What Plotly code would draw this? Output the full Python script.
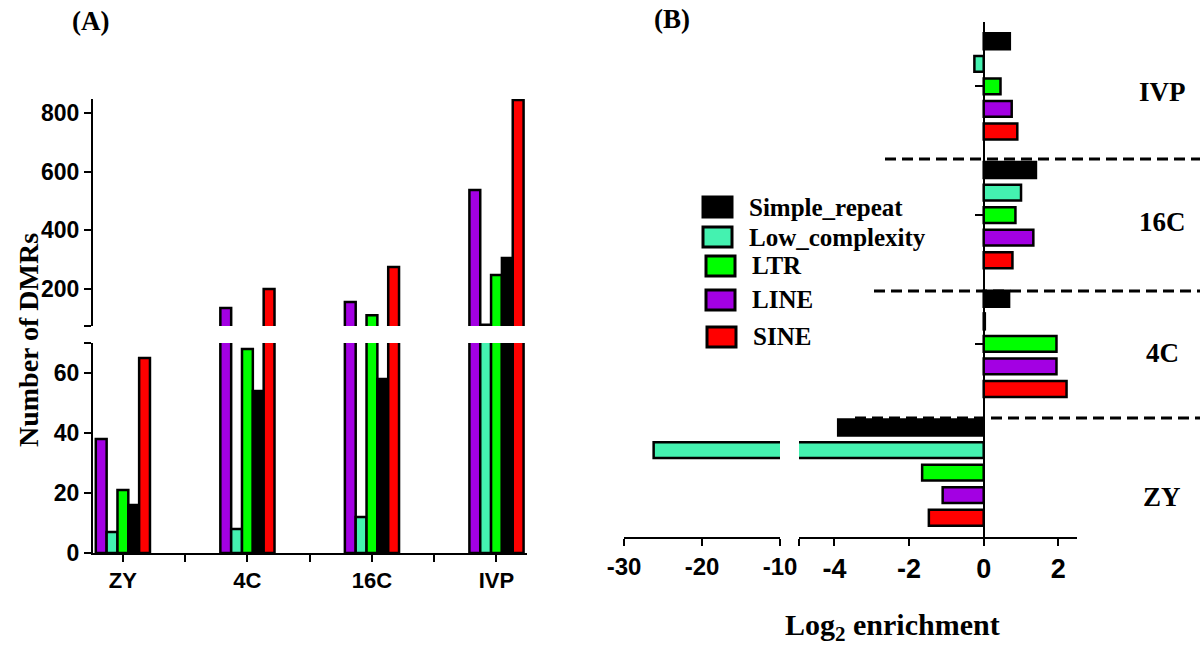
import plotly.graph_objects as go

W, H = 1200, 647
def px(x): return x / W
def py(y): return 1 - y / H

# ---------------- data ----------------
stages = ["ZY", "4C", "16C", "IVP"]

# Panel A: number of DMRs (left-to-right order within each stage)
dmr_series = ["LINE", "Low_complexity", "LTR", "Simple_repeat", "SINE"]
dmr_LINE = [38, 135, 156, 538]
dmr_Low_complexity = [7, 8, 12, 78]
dmr_LTR = [21, 68, 111, 248]
dmr_Simple_repeat = [16, 54, 58, 306]
dmr_SINE = [65, 200, 275, 845]

# Panel B: log2 enrichment
enr_series = ["Simple_repeat", "Low_complexity", "LTR", "LINE", "SINE"]
enr_Simple_repeat = [-3.9, 0.68, 1.4, 0.70]
enr_Low_complexity = [-26.2, 0.03, 1.0, -0.25]
enr_LTR = [-1.65, 1.95, 0.85, 0.45]
enr_LINE = [-1.1, 1.95, 1.33, 0.75]
enr_SINE = [-1.47, 2.22, 0.77, 0.9]

# tick labels
a_low_ticks = [0, 20, 40, 60]
a_up_ticks = [200, 400, 600, 800]
b_left_ticks = [-30, -20, -10]
b_right_ticks = [-4, -2, 0, 2]

colors = {
    "Simple_repeat": "#000000",
    "Low_complexity": "#44F2B0",
    "LTR": "#00FF00",
    "LINE": "#A300E3",
    "SINE": "#FF0000",
}

dmr_values = {"LINE": dmr_LINE, "Low_complexity": dmr_Low_complexity, "LTR": dmr_LTR,
              "Simple_repeat": dmr_Simple_repeat, "SINE": dmr_SINE}
enr_values = {"Simple_repeat": enr_Simple_repeat, "Low_complexity": enr_Low_complexity,
              "LTR": enr_LTR, "LINE": enr_LINE, "SINE": enr_SINE}

pos = list(range(len(stages)))

SERIF = "Liberation Serif, Times New Roman, serif"
SANS = "Liberation Sans, Arial, sans-serif"

fig = go.Figure()

# ---------- Panel A (broken y axis: lower y, upper y3) ----------
bw = 0.087
n = len(dmr_series)
for i, s in enumerate(dmr_series):
    for ya in ["y", "y3"]:
        fig.add_trace(go.Bar(
            x=pos, y=dmr_values[s], xaxis="x", yaxis=ya,
            width=bw, offset=-n * bw / 2 + i * bw,
            marker=dict(color=colors[s], line=dict(color="black", width=2.5)),
            showlegend=False, name=s,
        ))

# ---------- Panel B (broken x axis: x2 left, x3 right; shared y2) ----------
for s in reversed(enr_series):
    for xa in ["x2", "x3"]:
        fig.add_trace(go.Bar(
            y=pos, x=enr_values[s], orientation="h", xaxis=xa, yaxis="y2",
            marker=dict(color=colors[s], line=dict(color="black", width=2.5)),
            showlegend=False, name=s,
        ))

axis_common = dict(showline=True, linecolor="black", linewidth=2, showgrid=False,
                   zeroline=False, ticks="outside", tickcolor="black", tickwidth=2,
                   automargin=False, tickmode="array")

def minor(vals):
    return dict(tickmode="array", tickvals=vals, ticks="outside", ticklen=7,
                tickwidth=2, tickcolor="black", showgrid=False)

fig.update_layout(
    width=W, height=H, autosize=False,
    margin=dict(l=0, r=0, t=0, b=0, pad=0),
    paper_bgcolor="white", plot_bgcolor="rgba(0,0,0,0)",
    barmode="group", bargap=0.126, bargroupgap=0.29,
    xaxis=dict(domain=[px(93), px(527)], range=[-0.24, 3.245], anchor="y",
               tickvals=pos, ticktext=stages, ticklen=7,
               minor=minor([p + 0.5 for p in pos[:-1]]),
               tickfont=dict(family=SANS, size=22, color="black", weight="bold"),
               **axis_common),
    yaxis=dict(domain=[py(553), py(343)], range=[0, 70], anchor="x",
               tickvals=a_low_ticks, ticktext=[str(v) for v in a_low_ticks], ticklen=7,
               minor=minor([70]),
               tickfont=dict(family=SANS, size=23, color="black", weight="bold"),
               **axis_common),
    yaxis3=dict(domain=[py(326), py(99)], range=[74, 848], anchor="x",
                tickvals=a_up_ticks, ticktext=[str(v) for v in a_up_ticks], ticklen=7,
                minor=minor([74]),
                tickfont=dict(family=SANS, size=23, color="black", weight="bold"),
                **axis_common),
    xaxis2=dict(domain=[px(624), px(780)], range=[-30, -10], anchor="y2",
                tickvals=b_left_ticks, ticktext=[str(v) for v in b_left_ticks], ticklen=7,
                tickfont=dict(family=SANS, size=24, color="black", weight="bold"),
                **axis_common),
    xaxis3=dict(domain=[px(799), px(1077)], range=[-4.95, 2.5], anchor="y2",
                tickvals=b_right_ticks, ticktext=[str(v) for v in b_right_ticks], ticklen=7,
                minor=minor([-4.95]),
                tickfont=dict(family=SANS, size=27, color="black", weight="bold"),
                **axis_common),
    yaxis2=dict(domain=[py(537), py(22)], range=[-0.5, 3.5], anchor="free",
                position=px(984), tickvals=pos,
                showticklabels=False, ticklen=8, **axis_common),
)

def ann(text, x, y, size, xref="paper", yref="paper", **kw):
    d = dict(text=text, x=x, y=y, xref=xref, yref=yref, showarrow=False,
             xanchor="center", yanchor="middle",
             font=dict(family=SERIF, size=size, color="black", weight="bold"))
    d.update(kw)
    return d

annotations = [
    ann("(A)", px(90), py(21), 27),
    ann("(B)", px(672), py(19), 27),
    ann("Number of DMRs", px(28), py(340), 28, textangle=-90),
    ann("Log<sub>2</sub> enrichment", px(892), py(627), 30),
]

label_shift = [-24, -9, -7, -6]
for i, st in enumerate(stages):
    annotations.append(ann(st, px(1162), i, 27, yref="y2", yshift=label_shift[i]))

# manual legend (box + label)
legend_rows_y = [207, 237, 266, 300, 337]
legend_box_x = [703, 703, 706, 706, 707]
shapes = []
for s, yy, bx in zip(enr_series, legend_rows_y, legend_box_x):
    shapes.append(dict(type="rect", xref="paper", yref="paper",
                       x0=px(bx), x1=px(bx + 29), y0=py(yy + 10), y1=py(yy - 10),
                       fillcolor=colors[s], line=dict(color="black", width=3)))
    annotations.append(ann(s, px(bx + 44), py(yy), 25, xanchor="left"))

# dashed separators between stages in panel B
separators = [0.424, 1.41, 2.436]
sep_start = [855, 874, 885]
for sv, sx in zip(separators, sep_start):
    shapes.append(dict(type="line", xref="paper", yref="y2", x0=px(sx), x1=1.0, y0=sv, y1=sv,
                       line=dict(color="black", width=3, dash="11px,6px")))

fig.update_layout(annotations=annotations, shapes=shapes)

fig.write_html("out.html")
